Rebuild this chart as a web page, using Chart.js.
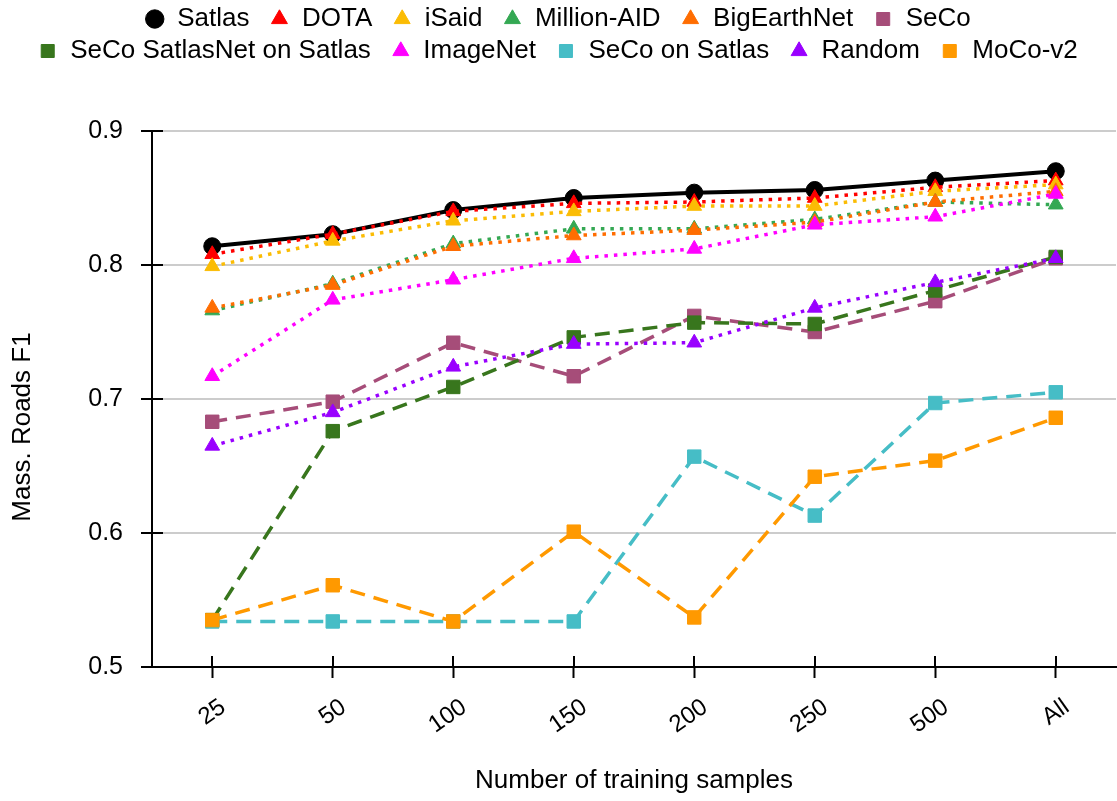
<!DOCTYPE html>
<html>
<head>
<meta charset="utf-8">
<script src="https://cdn.jsdelivr.net/npm/chart.js@4.4.1/dist/chart.umd.min.js"></script>
<style>
  html, body { margin: 0; padding: 0; background: #ffffff; }
  canvas { display: block; }
</style>
</head>
<body>
<canvas id="chart" width="1117" height="801"></canvas>
<script>
// Training-set sizes on the x axis and the y-axis tick values
const sampleSizes = ['25', '50', '100', '150', '200', '250', '500', 'All'];
const yTickValues = [0.5, 0.6, 0.7, 0.8, 0.9];

// Mass. Roads F1 per pre-training source
const satlasF1        = [0.814, 0.823, 0.841, 0.850, 0.854, 0.856, 0.863, 0.870];
const dotaF1          = [0.808, 0.823, 0.840, 0.846, 0.847, 0.850, 0.858, 0.863];
const isaidF1         = [0.799, 0.818, 0.833, 0.840, 0.844, 0.844, 0.855, 0.860];
const millionAidF1    = [0.766, 0.786, 0.816, 0.827, 0.827, 0.834, 0.847, 0.845];
const bigEarthNetF1   = [0.768, 0.785, 0.814, 0.822, 0.826, 0.832, 0.847, 0.855];
const secoF1          = [0.683, 0.698, 0.742, 0.717, 0.762, 0.750, 0.773, 0.805];
const secoSatlasNetF1 = [0.535, 0.676, 0.709, 0.746, 0.757, 0.756, 0.781, 0.806];
const imageNetF1      = [0.717, 0.774, 0.789, 0.805, 0.812, 0.830, 0.836, 0.853];
const secoOnSatlasF1  = [0.534, 0.534, 0.534, 0.534, 0.657, 0.613, 0.697, 0.705];
const randomF1        = [0.665, 0.690, 0.724, 0.741, 0.742, 0.768, 0.787, 0.805];
const mocoV2F1        = [0.535, 0.561, 0.534, 0.601, 0.537, 0.642, 0.654, 0.686];

const FONT = "'Liberation Sans', Arial, Helvetica, sans-serif";
const SOLID = [];
const DOTTED = [3.5, 6];
const DASHED = [15, 9];

// name, values, colour, marker, line pattern
const seriesList = [
  ['Satlas',                   satlasF1,        '#000000', 'circle',   SOLID],
  ['DOTA',                     dotaF1,          '#ff0000', 'triangle', DOTTED],
  ['iSaid',                    isaidF1,         '#fbbc04', 'triangle', DOTTED],
  ['Million-AID',              millionAidF1,    '#34a853', 'triangle', DOTTED],
  ['BigEarthNet',              bigEarthNetF1,   '#ff6d01', 'triangle', DOTTED],
  ['SeCo',                     secoF1,          '#a64d79', 'rect',     DASHED],
  ['SeCo SatlasNet on Satlas', secoSatlasNetF1, '#38761d', 'rect',     DASHED],
  ['ImageNet',                 imageNetF1,      '#ff00ff', 'triangle', DOTTED],
  ['SeCo on Satlas',           secoOnSatlasF1,  '#46bdc6', 'rect',     DASHED],
  ['Random',                   randomF1,        '#9900ff', 'triangle', DOTTED],
  ['MoCo-v2',                  mocoV2F1,        '#ff9900', 'rect',     DASHED]
];

// legend entries that close a row get no trailing gap
const legendRowEnds = ['SeCo', 'MoCo-v2'];

const markerRadius = { circle: 8.5, triangle: 8.5, rect: 9.5 };

const datasets = seriesList.map(([label, data, color, marker, dash], i) => ({
  label,
  data,
  borderColor: color,
  backgroundColor: color,
  borderWidth: dash.length ? 3.5 : 4,
  borderDash: dash,
  borderCapStyle: 'butt',
  tension: 0,
  pointStyle: marker,
  pointRadius: markerRadius[marker],
  pointHoverRadius: markerRadius[marker],
  pointBackgroundColor: color,
  pointBorderColor: color,
  pointBorderWidth: 1,
  // later series are painted above earlier ones
  order: seriesList.length - i
}));

// Inner halves of the axis tick marks, legend spacing and the rotated y-axis title
const axisDecor = {
  id: 'axisDecor',
  beforeInit(chart) {
    const legend = chart.legend;
    const baseFit = legend.fit;
    legend.fit = function () {
      baseFit.call(this);
      this.height += 57;
    };
  },
  afterDraw(chart) {
    const { ctx, scales: { x, y }, chartArea } = chart;
    ctx.save();
    ctx.strokeStyle = '#000000';
    ctx.lineWidth = 2;
    ctx.beginPath();
    yTickValues.forEach(v => {
      const py = Math.round(y.getPixelForValue(v));
      ctx.moveTo(chartArea.left, py);
      ctx.lineTo(chartArea.left + 11, py);
    });
    sampleSizes.forEach((_, i) => {
      const px = Math.round(x.getPixelForTick(i));
      ctx.moveTo(px, chartArea.bottom);
      ctx.lineTo(px, chartArea.bottom - 11);
    });
    ctx.stroke();

    ctx.fillStyle = '#000000';
    ctx.font = '26px ' + FONT;
    ctx.textAlign = 'center';
    ctx.textBaseline = 'middle';
    ctx.translate(23, 427);
    ctx.rotate(-Math.PI / 2);
    ctx.fillText('Mass. Roads F1', 0, 0);
    ctx.restore();
  }
};

new Chart(document.getElementById('chart'), {
  type: 'line',
  data: { labels: sampleSizes, datasets },
  plugins: [axisDecor],
  options: {
    responsive: false,
    animation: false,
    devicePixelRatio: 1,
    events: [],
    layout: { autoPadding: false, padding: { left: 0, right: 1, top: 0, bottom: 0 } },
    plugins: {
      tooltip: { enabled: false },
      legend: {
        position: 'top',
        align: 'center',
        labels: {
          usePointStyle: true,
          boxWidth: 19,
          boxHeight: 13,
          padding: 6,
          color: '#000000',
          font: { family: FONT, size: 26 },
          sort: (a, b) => a.datasetIndex - b.datasetIndex,
          generateLabels(chart) {
            const items = Chart.defaults.plugins.legend.labels.generateLabels(chart);
            items.forEach(item => {
              if (!legendRowEnds.includes(item.text)) item.text = item.text + '  ';
            });
            return items;
          }
        }
      }
    },
    scales: {
      x: {
        type: 'category',
        offset: true,
        afterFit(scale) {
          scale.height = 134;
          scale.paddingLeft = 0;
          scale.paddingRight = 0;
        },
        grid: {
          display: true,
          drawOnChartArea: false,
          drawTicks: true,
          tickLength: 11,
          tickWidth: 2,
          tickColor: '#000000',
          offset: false
        },
        border: { display: true, color: '#000000', width: 2 },
        ticks: {
          autoSkip: false,
          minRotation: 35,
          maxRotation: 35,
          padding: 15,
          labelOffset: 11,
          color: '#000000',
          font: { family: FONT, size: 24 }
        },
        title: {
          display: true,
          text: 'Number of training samples',
          color: '#000000',
          font: { family: FONT, size: 26 },
          padding: { top: 0, bottom: 5 }
        }
      },
      y: {
        type: 'linear',
        min: 0.5,
        max: 0.9,
        afterFit(scale) {
          scale.width = 152;
          scale.paddingTop = 0;
          scale.paddingBottom = 0;
        },
        afterBuildTicks(scale) {
          scale.ticks = yTickValues.map(v => ({ value: v }));
        },
        grid: {
          color: ctx => (ctx.tick && ctx.tick.value === 0.5 ? '#000000' : '#cccccc'),
          lineWidth: 2,
          drawTicks: true,
          tickLength: 11,
          tickWidth: 2,
          tickColor: '#000000'
        },
        border: { display: true, color: '#000000', width: 2 },
        ticks: {
          padding: 18,
          color: '#000000',
          font: { family: FONT, size: 25 },
          callback: v => v.toFixed(1)
        }
      }
    }
  }
});
</script>
</body>
</html>
